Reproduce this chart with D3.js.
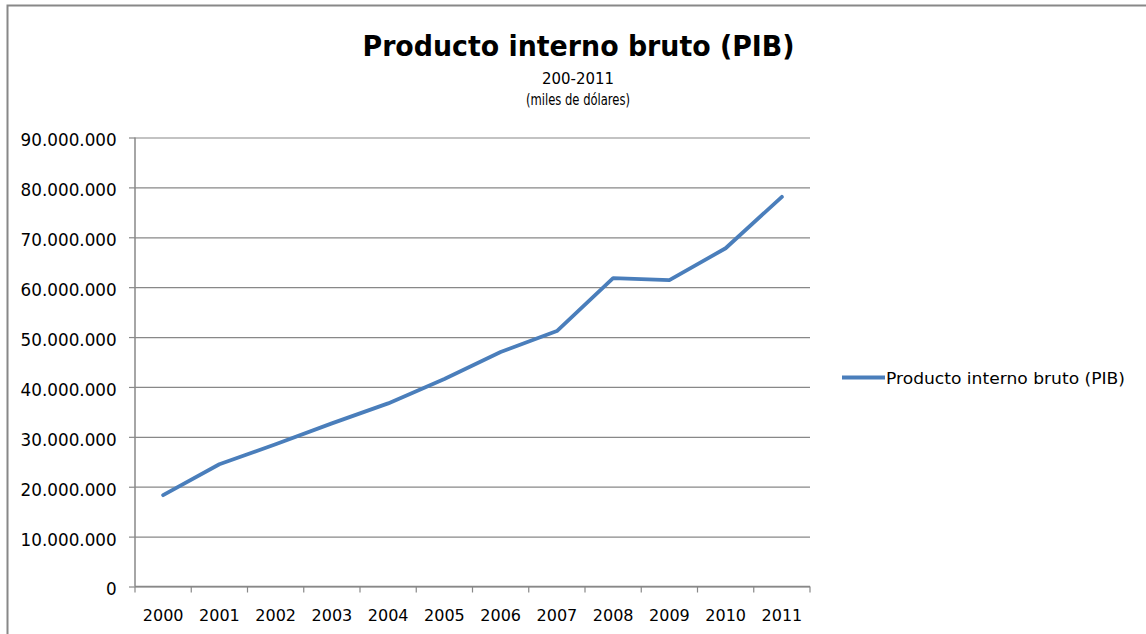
<!DOCTYPE html>
<html>
<head>
<meta charset="utf-8">
<script src="https://cdn.jsdelivr.net/npm/d3@7"></script>
<style>
  body { margin: 0; background: #fff; }
  svg { display: block; }
</style>
</head>
<body>
<svg id="chart"></svg>
<script>
// datos
var years = ["2000", "2001", "2002", "2003", "2004", "2005", "2006", "2007", "2008", "2009", "2010", "2011"];
var pib = [18300000, 24500000, 28500000, 32700000, 36700000, 41600000, 47000000, 51200000, 61800000, 61400000, 67800000, 78100000];
var yTicks = [0, 10000000, 20000000, 30000000, 40000000, 50000000, 60000000, 70000000, 80000000, 90000000];
var titleText = "Producto interno bruto (PIB)";
var subtitleLines = ["200-2011", "(miles de dólares)"];
var seriesName = "Producto interno bruto (PIB)";

var width = 1146,
    height = 634;

var plot = {left: 135, right: 810, top: 137.5, bottom: 586.5};

var blue = "#4a7ebb",
    grey = "#888888";

var svg = d3.select("#chart")
    .attr("width", width)
    .attr("height", height);

// borde del area del grafico
svg.append("rect")
    .attr("x", 7.5)
    .attr("y", 5.5)
    .attr("width", width + 20)
    .attr("height", height + 20)
    .attr("fill", "none")
    .attr("stroke", grey)
    .attr("stroke-width", 2);

var es = d3.formatLocale({decimal: ",", thousands: ".", grouping: [3], currency: ["", ""]});
var fmt = es.format(",");

var x = d3.scaleBand()
    .domain(years)
    .range([plot.left, plot.right]);

var y = d3.scaleLinear()
    .domain([0, 90000000])
    .range([plot.bottom, plot.top]);

// lineas de cuadricula
svg.append("g")
    .attr("transform", "translate(" + plot.left + ",0)")
    .call(d3.axisLeft(y).tickValues(yTicks).tickSize(-(plot.right - plot.left)).tickFormat(""))
    .call(g => g.select(".domain").remove())
    .call(g => g.selectAll("line").attr("stroke", grey).attr("stroke-width", 1.2));

// eje y
svg.append("g")
    .attr("transform", "translate(" + plot.left + ",0)")
    .call(d3.axisLeft(y).tickValues(yTicks).tickSize(6).tickPadding(12.3).tickFormat(fmt))
    .call(g => g.select(".domain").attr("stroke", grey).attr("stroke-width", 1.5).attr("d", "M0," + plot.top + "V" + plot.bottom))
    .call(g => g.selectAll("line").attr("stroke", grey).attr("stroke-width", 1.2))
    .call(g => g.selectAll("text")
        .attr("dy", "0.5em")
        .attr("fill", "#000")
        .style("font", "16.8px 'DejaVu Sans', sans-serif"));

// eje x: marcas entre categorias, etiquetas al centro
var xAxis = svg.append("g");

xAxis.append("line")
    .attr("x1", plot.left)
    .attr("x2", plot.right)
    .attr("y1", y(0))
    .attr("y2", y(0))
    .attr("stroke", grey)
    .attr("stroke-width", 1.5);

xAxis.selectAll(".tick")
    .data(years.map(d => x(d)).concat([x.range()[1]]))
    .enter().append("line")
      .attr("class", "tick")
      .attr("x1", d => d)
      .attr("x2", d => d)
      .attr("y1", y(0))
      .attr("y2", y(0) + 6)
      .attr("stroke", grey)
      .attr("stroke-width", 1.2);

xAxis.selectAll("text")
    .data(years)
    .enter().append("text")
      .attr("x", d => x(d) + x.bandwidth() / 2)
      .attr("y", y(0) + 34)
      .attr("text-anchor", "middle")
      .style("font", "16px 'DejaVu Sans', sans-serif")
      .text(d => d);

// serie
var line = d3.line()
    .x((d, i) => x(years[i]) + x.bandwidth() / 2)
    .y(d => y(d));

svg.append("path")
    .datum(pib)
    .attr("fill", "none")
    .attr("stroke", blue)
    .attr("stroke-width", 3.8)
    .attr("stroke-linejoin", "round")
    .attr("stroke-linecap", "round")
    .attr("d", line);

// titulo
svg.append("text")
    .attr("x", 578.5)
    .attr("y", 55.5)
    .attr("text-anchor", "middle")
    .attr("textLength", 432)
    .attr("lengthAdjust", "spacingAndGlyphs")
    .style("font", "bold 28px 'DejaVu Sans Condensed', 'DejaVu Sans', sans-serif")
    .text(titleText);

svg.selectAll(".subtitle")
    .data(subtitleLines)
    .enter().append("text")
      .attr("class", "subtitle")
      .attr("x", 578)
      .attr("y", (d, i) => 84 + i * 21)
      .attr("text-anchor", "middle")
      .attr("textLength", (d, i) => i === 0 ? 72 : 104)
      .attr("lengthAdjust", "spacingAndGlyphs")
      .style("font", "15px 'DejaVu Sans Condensed', 'DejaVu Sans', sans-serif")
      .text(d => d);

// leyenda
var legend = svg.append("g")
    .attr("transform", "translate(842,377.5)");

legend.append("line")
    .attr("x1", 0)
    .attr("x2", 43)
    .attr("stroke", blue)
    .attr("stroke-width", 3.8);

legend.append("text")
    .attr("x", 44)
    .attr("y", 6.3)
    .style("font", "16.5px 'DejaVu Sans', sans-serif")
    .attr("textLength", 239)
    .attr("lengthAdjust", "spacingAndGlyphs")
    .text(seriesName);
</script>
</body>
</html>
